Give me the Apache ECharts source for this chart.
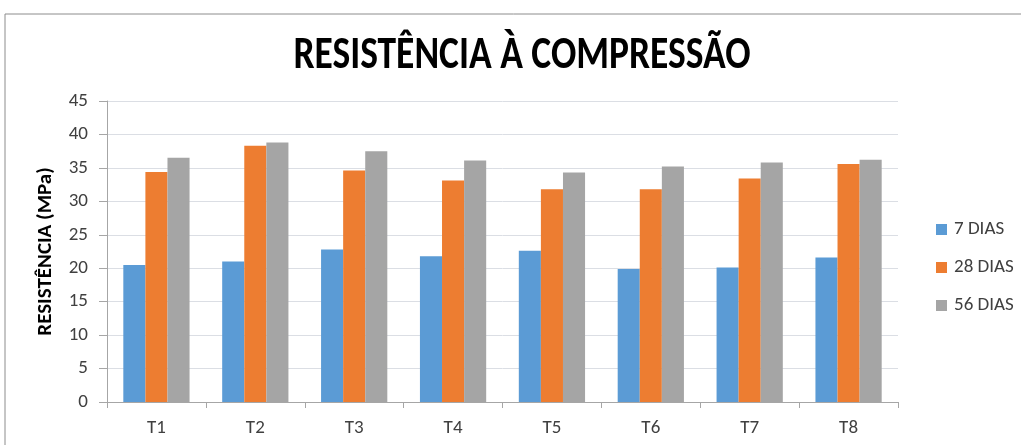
<!DOCTYPE html>
<html><head><meta charset="utf-8">
<script src="https://cdn.jsdelivr.net/npm/echarts@6/dist/echarts.min.js"></script>
<style>html,body{margin:0;padding:0;background:#fff}#c{width:1021px;height:445px}</style>
</head><body><div id="c"></div>
<script>
const categories = ['T1','T2','T3','T4','T5','T6','T7','T8'];
const dias7  = [20.5, 21.0, 22.8, 21.8, 22.6, 19.9, 20.1, 21.6];
const dias28 = [34.4, 38.3, 34.6, 33.1, 31.8, 31.8, 33.4, 35.6];
const dias56 = [36.5, 38.8, 37.5, 36.1, 34.3, 35.2, 35.8, 36.2];
const seriesNames = ['7 DIAS','28 DIAS','56 DIAS'];
const titleText = 'RESISTÊNCIA À COMPRESSÃO';
const colors = ['#5B9BD5','#ED7D31','#A5A5A5'];

const chart = echarts.init(document.getElementById('c'), null, {renderer:'canvas'});
const font = "Carlito, 'Open Sans', 'Liberation Sans', sans-serif";
chart.setOption({
  animation:false,
  graphic:[
    {type:'rect', shape:{x:5,y:14,width:1030,height:450}, style:{fill:'none',stroke:'#8c8c8c',lineWidth:1}, silent:true},
    {type:'text', x:522, y:57, scaleY:1.22, silent:true,
     style:{text:titleText, x:0, y:0, align:'center', verticalAlign:'middle',
       font:"bold 37.5px Carlito, 'Liberation Sans Narrow', sans-serif", fill:'#000'}}
  ],
  legend:{orient:'vertical', left:931, top:215, itemWidth:11, itemHeight:11, itemGap:19, icon:'rect',
    textStyle:{fontFamily:font, fontSize:19, color:'#404040', padding:[0,0,0,2]}, data:seriesNames},
  grid:{left:107, right:123, top:101, bottom:43},
  xAxis:{type:'category', data:categories,
    axisLine:{lineStyle:{color:'#a6a6a6'}},
    axisTick:{show:true, alignWithLabel:false, length:6, lineStyle:{color:'#a6a6a6'}},
    axisLabel:{fontFamily:font, fontSize:19, color:'#404040', margin:17}},
  yAxis:{type:'value', min:0, max:45, interval:5,
    name:'RESISTÊNCIA (MPa)', nameLocation:'middle', nameGap:51, nameRotate:90,
    nameTextStyle:{fontFamily:font, fontSize:21, fontWeight:'bold', color:'#000'},
    axisLine:{show:true, lineStyle:{color:'#a6a6a6'}},
    axisTick:{show:true, length:8, lineStyle:{color:'#a6a6a6'}},
    axisLabel:{fontFamily:font, fontSize:19, color:'#404040', margin:19}},
  series:[dias7,dias28,dias56].map((d,i)=>({
    name:seriesNames[i], type:'bar', data:d, barGap:'0%', barCategoryGap:'33%',
    itemStyle:{color:colors[i]}
  }))
});
</script></body></html>
